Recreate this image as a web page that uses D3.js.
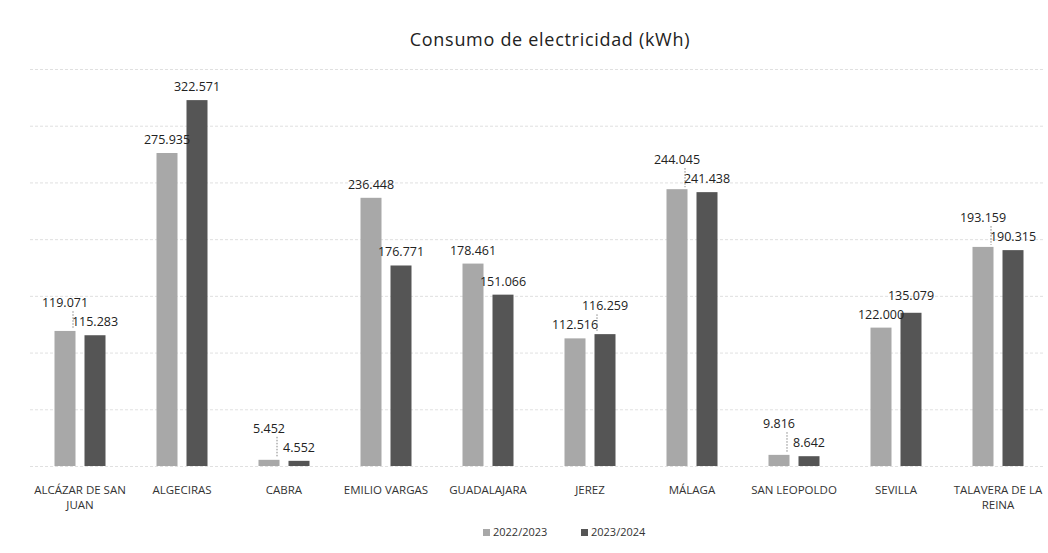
<!DOCTYPE html>
<html>
<head>
<meta charset="utf-8">
<script src="https://cdn.jsdelivr.net/npm/d3@7"></script>
<style>
  body { margin: 0; background: #fff; }
  svg { font-family: "Open Sans", "Noto Sans", sans-serif; }
  .grid line { stroke: #d8d8d8; stroke-width: 0.8; stroke-dasharray: 3,2; }
  .lbl { font-size: 12.5px; fill: #222; text-anchor: middle; }
  .xlab { font-size: 11.5px; fill: #333; text-anchor: middle; }
</style>
</head>
<body>
<div id="chart"></div>
<script>
// categories and series
var categories = ["ALCÁZAR DE SAN JUAN", "ALGECIRAS", "CABRA", "EMILIO VARGAS", "GUADALAJARA",
  "JEREZ", "MÁLAGA", "SAN LEOPOLDO", "SEVILLA", "TALAVERA DE LA REINA"];
var seriesNames = ["2022/2023", "2023/2024"];
var values2223 = [119071, 275935, 5452, 236448, 178461, 112516, 244045, 9816, 122000, 193159];
var values2324 = [115283, 322571, 4552, 176771, 151066, 116259, 241438, 8642, 135079, 190315];
var gridTicks = [0, 50000, 100000, 150000, 200000, 250000, 300000, 350000];
var colors = ["#a8a8a8", "#555555"];

var W = 1048, H = 553;
var svg = d3.select("#chart").append("svg").attr("width", W).attr("height", H);

var locale = d3.formatLocale({ decimal: ",", thousands: ".", grouping: [3], currency: ["", "€"] });
var fmt = locale.format(",d");

var x0 = d3.scaleBand().domain(categories).range([29, 1049]).paddingInner(0.5).paddingOuter(0.25);
var x1 = d3.scaleBand().domain(seriesNames).range([0, x0.bandwidth()]).paddingInner(0.3);
var y = d3.scaleLinear().domain([0, 350000]).range([466, 69]);

// gridlines
svg.append("g").attr("class", "grid").selectAll("line")
  .data(gridTicks).enter().append("line")
  .attr("x1", 30).attr("x2", 1045)
  .attr("y1", function(d) { return y(d) + 0.5; })
  .attr("y2", function(d) { return y(d) + 0.5; });

// title
svg.append("text").attr("x", 550).attr("y", 46).attr("text-anchor", "middle")
  .style("font-size", "18px").style("letter-spacing", "0.7px").style("fill", "#222")
  .text("Consumo de electricidad (kWh)");

var rows = categories.map(function(c, i) {
  return { cat: c, vals: [values2223[i], values2324[i]] };
});

var groups = svg.append("g").selectAll("g.cat")
  .data(rows).enter().append("g")
  .attr("transform", function(d) { return "translate(" + x0(d.cat) + ",0)"; });

groups.selectAll("rect")
  .data(function(d) { return d.vals.map(function(v, k) { return { s: seriesNames[k], v: v, k: k }; }); })
  .enter().append("rect")
  .attr("x", function(d) { return x1(d.s); })
  .attr("y", function(d) { return y(d.v); })
  .attr("width", x1.bandwidth())
  .attr("height", function(d) { return y(0) - y(d.v); })
  .style("fill", function(d) { return colors[d.k]; });

// data labels, staggered when the two would collide
groups.each(function(d) {
  var g = d3.select(this);
  var tops = d.vals.map(function(v) { return y(v); });
  var small = d.vals[0] <= d.vals[1] ? 0 : 1;
  var big = 1 - small;
  var ly = [];
  ly[small] = tops[small] - 9;
  ly[big] = Math.min(tops[big] - 9, ly[small] - 19);
  d.vals.forEach(function(v, k) {
    var cx = x1(seriesNames[k]) + x1.bandwidth() / 2;
    if (tops[k] - 9 - ly[k] > 6) {
      g.append("line")
        .attr("x1", cx + (k === 0 ? 8 : -8)).attr("x2", cx + (k === 0 ? 8 : -8))
        .attr("y1", ly[k] + 4).attr("y2", tops[k] - 2)
        .style("stroke", "#666").style("stroke-width", 0.8).style("stroke-dasharray", "1.5,1.5");
    }
    g.append("text").attr("class", "lbl")
      .attr("x", cx).attr("y", ly[k]).text(fmt(v));
  });
});

// category labels with wrapping
var xlabels = svg.append("g").selectAll("text")
  .data(categories).enter().append("text")
  .attr("class", "xlab")
  .attr("x", function(d) { return x0(d) + x0.bandwidth() / 2; })
  .attr("y", 494);
xlabels.each(function(d) {
  var t = d3.select(this), words = d.split(" "), line = [], lines = [];
  var maxW = x0.step();
  words.forEach(function(w) {
    var test = line.concat([w]).join(" ");
    t.text(test);
    if (this.getComputedTextLength() > maxW && line.length) {
      lines.push(line.join(" "));
      line = [w];
    } else {
      line.push(w);
    }
  }, this);
  lines.push(line.join(" "));
  t.text(null);
  lines.forEach(function(l, i) {
    t.append("tspan").attr("x", t.attr("x")).attr("dy", i ? 15 : 0).text(l);
  });
});

// legend
var legend = svg.append("g").attr("transform", "translate(483,536)");
var item = legend.selectAll("g").data(seriesNames).enter().append("g")
  .attr("transform", function(d, i) { return "translate(" + (i * 98) + ",0)"; });
item.append("rect").attr("x", 0).attr("y", -7).attr("width", 7).attr("height", 7)
  .style("fill", function(d, i) { return colors[i]; });
item.append("text").attr("x", 10).attr("y", 0).style("font-size", "11px").style("fill", "#333")
  .text(function(d) { return d; });
</script>
</body>
</html>
